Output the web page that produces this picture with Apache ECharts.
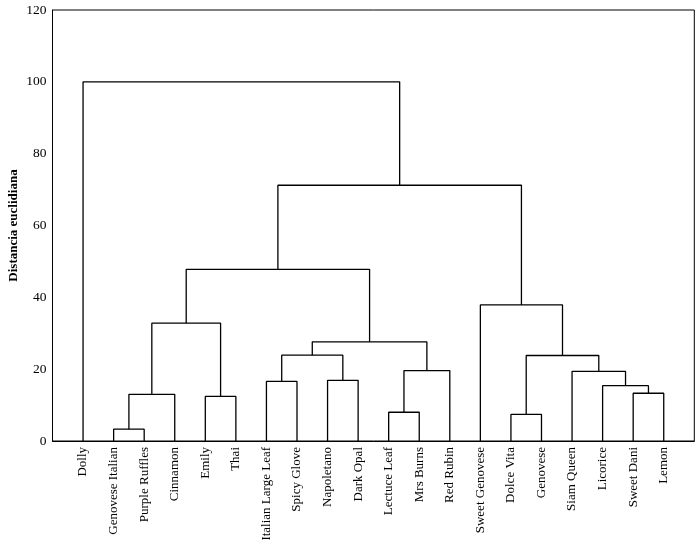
<!DOCTYPE html>
<html>
<head>
<meta charset="utf-8">
<script src="https://cdn.jsdelivr.net/npm/echarts@6/dist/echarts.min.js"></script>
<style>
html,body{margin:0;padding:0;background:#fff;}
#chart{width:698px;height:544px;}
</style>
</head>
<body>
<div id="chart"></div>
<script>
// Leaves in dendrogram order (left to right)
var leafNames = ["Dolly","Genovese Italian","Purple Ruffles","Cinnamon","Emily","Thai",
  "Italian Large Leaf","Spicy Glove","Napoletano","Dark Opal","Lectuce Leaf","Mrs Burns",
  "Red Rubin","Sweet Genovese","Dolce Vita","Genovese","Siam Queen","Licorice","Sweet Dani","Lemon"];
// Linkage: cluster ids 0..19 are leaves, merge k creates cluster 20+k
var mergeLeft   = [1, 10, 14, 4, 20, 18, 17, 6, 8, 16, 21, 22, 27, 32, 24, 13, 34, 36, 0];
var mergeRight  = [2, 11, 15, 5, 3, 19, 25, 7, 9, 26, 12, 29, 28, 30, 23, 31, 33, 35, 37];
var mergeHeight = [3.3, 8.0, 7.4, 12.4, 13.0, 13.3, 15.4, 16.6, 16.9, 19.4, 19.6, 23.8, 23.9, 27.6, 32.8, 37.9, 47.8, 71.2, 100];
var yTicks = [0, 20, 40, 60, 80, 100, 120];

var n = leafNames.length;
var posX = [], posY = [];
for (var i = 0; i < n; i++) { posX.push(i + 1); posY.push(0); }
var series = [];
for (var k = 0; k < mergeLeft.length; k++) {
  var a = mergeLeft[k], b = mergeRight[k], h = mergeHeight[k];
  series.push({
    type: 'line', silent: true, symbol: 'none', animation: false,
    lineStyle: { color: '#000', width: 1.3 },
    data: [[posX[a], posY[a]], [posX[a], h], [posX[b], h], [posX[b], posY[b]]]
  });
  posX.push((posX[a] + posX[b]) / 2);
  posY.push(h);
}

var chart = echarts.init(document.getElementById('chart'));
var font = '"Liberation Serif","Times New Roman",serif';
chart.setOption({
  animation: false,
  grid: { left: 52.5, right: 3.7, top: 10, bottom: 103, show: true, borderColor: '#000', borderWidth: 1,
          containLabel: false, outerBoundsMode: 'none' },
  xAxis: {
    type: 'value', min: 0, max: n + 1, interval: 1,
    axisLine: { show: true, lineStyle: { color: '#000', width: 1 } },
    axisTick: { show: false }, splitLine: { show: false },
    axisLabel: {
      rotate: 90, margin: 6, color: '#000', fontFamily: font, fontSize: 13,
      showMinLabel: true, showMaxLabel: true, hideOverlap: false,
      formatter: function (v) { var i = Math.round(v); return (i >= 1 && i <= n) ? leafNames[i - 1] : ''; }
    }
  },
  yAxis: {
    type: 'value', min: yTicks[0], max: yTicks[yTicks.length - 1], interval: 20,
    name: 'Distancia euclidiana', nameLocation: 'middle', nameGap: 32, nameMoveOverlap: false,
    nameTextStyle: { color: '#000', fontFamily: font, fontSize: 13, fontWeight: 'bold' },
    axisLine: { show: true, lineStyle: { color: '#000', width: 1 } },
    axisTick: { show: false }, splitLine: { show: false },
    axisLabel: { margin: 6, color: '#000', fontFamily: font, fontSize: 13.5 }
  },
  series: series
});
</script>
</body>
</html>
